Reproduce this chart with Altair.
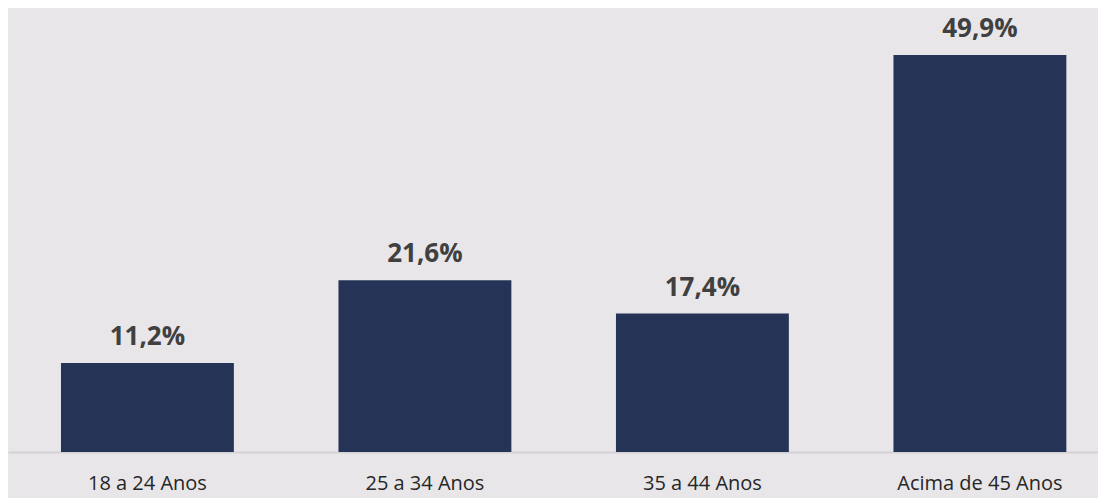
import altair as alt
import pandas as pd

categories = ["18 a 24 Anos", "25 a 34 Anos", "35 a 44 Anos", "Acima de 45 Anos"]
values = [11.2, 21.6, 17.4, 49.9]
labels = ["11,2%", "21,6%", "17,4%", "49,9%"]

df = pd.DataFrame({"cat": categories, "val": values, "lab": labels})

x = alt.X("cat:N", sort=categories, title=None,
          scale=alt.Scale(paddingInner=0.377, paddingOuter=0.1525, align=0.626),
          axis=alt.Axis(labelAngle=0, ticks=False, labelPadding=21, labelFontSize=20,
                        labelFont="Open Sans", labelColor="#262626",
                        domainColor="#D4D2D5", domainWidth=2, grid=False))
y = alt.Y("val:Q", title=None, scale=alt.Scale(domain=[0, 55.8], nice=False),
          axis=None)

bars = alt.Chart(df).mark_bar(color="#253356").encode(x=x, y=y)
text = alt.Chart(df).mark_text(dy=-18, baseline="alphabetic", fontSize=26, fontWeight="bold",
                               font="Open Sans", color="#404040").encode(
    x=alt.X("cat:N", sort=categories), y="val:Q", text="lab:N")

chart = (bars + text).properties(
    width=1090, height=444,
    background="#E8E6E9",
    padding={"left": 0, "top": 0, "right": 0, "bottom": 46},
    autosize=alt.AutoSizeParams(type="none"),
).configure_view(stroke=None)

chart.save("out.html", embed_options={"renderer": "svg", "actions": False})
